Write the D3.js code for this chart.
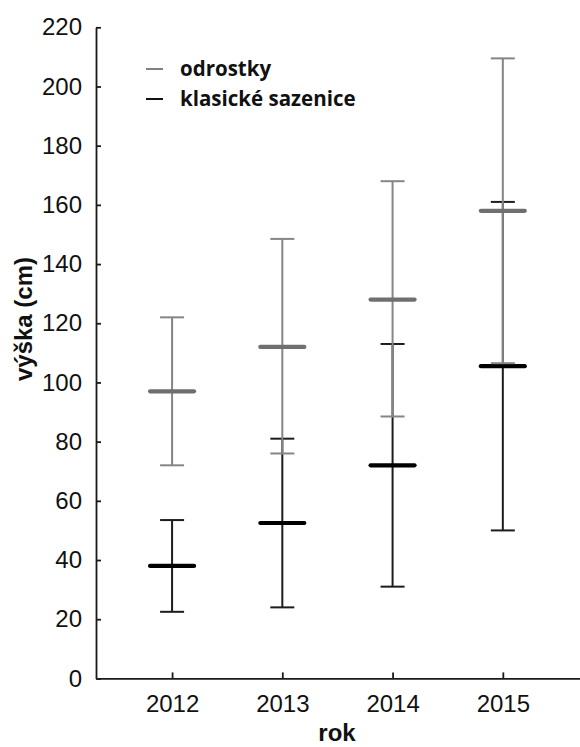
<!DOCTYPE html>
<html>
<head>
<meta charset="utf-8">
<script src="https://cdn.jsdelivr.net/npm/d3@7"></script>
<style>
  body { margin: 0; background: #fff; }
  #chart { width: 580px; height: 747px; }
</style>
</head>
<body>
<div id="chart"></div>
<script>
const years = [2012, 2013, 2014, 2015];
const yTicks = [0, 20, 40, 60, 80, 100, 120, 140, 160, 180, 200, 220];

// odrostky (grey)
const odrMean  = [97, 112, 128, 158];
const odrLow   = [72, 76, 88.5, 106.5];
const odrHigh  = [122, 148.5, 168, 209.5];

// klasické sazenice (black)
const klaMean  = [38, 52.5, 72, 105.5];
const klaLow   = [22.5, 24, 31, 50];
const klaHigh  = [53.5, 81, 113, 161];

const seriesNames = ["odrostky", "klasické sazenice"];

function drawChart(containerEl) {
  const fullW = 580, fullH = 747;
  const left = 96, top = 27.3, bottom = 678.4, right = 580;

  const svg = d3.select(containerEl).append("svg")
    .attr("width", fullW)
    .attr("height", fullH);

  const x = d3.scaleLinear()
    .domain([2011.31, 2015.7])
    .range([left, right]);

  const y = d3.scaleLinear()
    .domain([0, 220])
    .range([bottom, top]);

  // axes
  svg.append("g")
    .attr("transform", `translate(${left},0)`)
    .call(d3.axisLeft(y).tickValues(yTicks).tickSizeInner(-5).tickSizeOuter(0).tickPadding(14))
    .call(g => g.selectAll("path,line").attr("stroke", "#1a1a1a").attr("stroke-width", 1.8))
    .call(g => g.selectAll("text")
      .attr("fill", "#111")
      .style("font-size", "24px")
      .style("font-family", "'Liberation Sans', Arial, sans-serif"));

  svg.append("g")
    .attr("transform", `translate(0,${bottom})`)
    .call(d3.axisBottom(x).tickValues(years).tickFormat(d3.format("d")).tickSizeInner(-6).tickSizeOuter(0).tickPadding(17))
    .call(g => g.selectAll("path,line").attr("stroke", "#1a1a1a").attr("stroke-width", 1.8))
    .call(g => g.selectAll("text")
      .attr("fill", "#111")
      .style("font-size", "24px")
      .style("font-family", "'Liberation Sans', Arial, sans-serif"));

  // axis titles
  svg.append("text")
    .attr("x", 337)
    .attr("y", 741)
    .attr("text-anchor", "middle")
    .attr("fill", "#111")
    .style("font-size", "24px")
    .style("font-weight", "bold")
    .style("font-family", "'Liberation Sans', Arial, sans-serif")
    .text("rok");

  svg.append("text")
    .attr("transform", "translate(32,319) rotate(-90)")
    .attr("text-anchor", "middle")
    .attr("fill", "#111")
    .style("font-size", "24px")
    .style("font-weight", "bold")
    .style("font-family", "'Liberation Sans', Arial, sans-serif")
    .text("výška (cm)");

  const series = [
    { name: seriesNames[1], mean: klaMean, low: klaLow, high: klaHigh, line: "#1c1c1c", bar: "#000" },
    { name: seriesNames[0], mean: odrMean, low: odrLow, high: odrHigh, line: "#858585", bar: "#6f6f6f" }
  ];

  const capW = 24, barW = 48;

  series.forEach(s => {
    const rows = years.map((yr, i) => ({ yr, mean: s.mean[i], low: s.low[i], high: s.high[i] }));
    const gs = svg.append("g").attr("class", "series");

    gs.selectAll(".whisker").data(rows).enter().append("line")
      .attr("x1", d => x(d.yr)).attr("x2", d => x(d.yr))
      .attr("y1", d => y(d.low)).attr("y2", d => y(d.high))
      .attr("stroke", s.line).attr("stroke-width", 2);

    gs.selectAll(".cap").data(rows.flatMap(d => [{ yr: d.yr, v: d.low }, { yr: d.yr, v: d.high }]))
      .enter().append("line")
      .attr("x1", d => x(d.yr) - capW / 2).attr("x2", d => x(d.yr) + capW / 2)
      .attr("y1", d => y(d.v)).attr("y2", d => y(d.v))
      .attr("stroke", s.line).attr("stroke-width", 2);

    gs.selectAll(".mean").data(rows).enter().append("line")
      .attr("x1", d => x(d.yr) - barW / 2 + 2).attr("x2", d => x(d.yr) + barW / 2 - 2)
      .attr("y1", d => y(d.mean)).attr("y2", d => y(d.mean))
      .attr("stroke", s.bar).attr("stroke-width", 4.2)
      .attr("stroke-linecap", "round");
  });

  // legend
  const legend = svg.append("g").attr("class", "legend");
  const legItems = [
    { name: seriesNames[0], color: "#808080", y: 69 },
    { name: seriesNames[1], color: "#111", y: 99 }
  ];
  legItems.forEach(d => {
    legend.append("line")
      .attr("x1", 146).attr("x2", 163)
      .attr("y1", d.y).attr("y2", d.y)
      .attr("stroke", d.color).attr("stroke-width", 2);
    legend.append("text")
      .attr("x", 180).attr("y", d.y + 7)
      .attr("fill", "#111")
      .style("font-size", "20.5px")
      .style("font-weight", "bold")
      .style("font-family", "'Open Sans', sans-serif")
      .text(d.name);
  });
}

drawChart(document.getElementById("chart"));
</script>
</body>
</html>
